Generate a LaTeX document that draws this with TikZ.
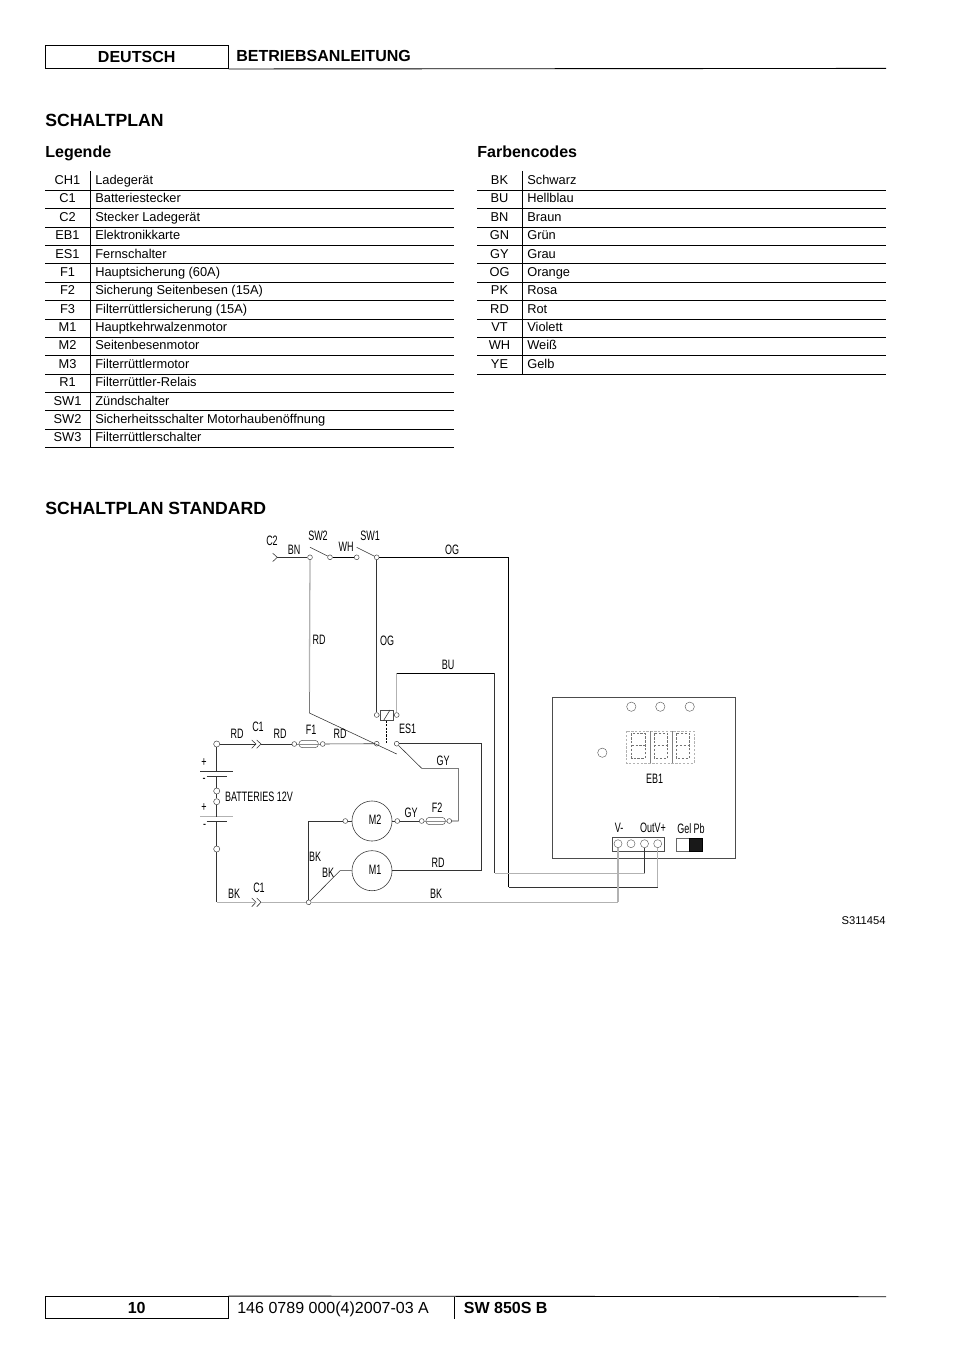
\documentclass[tikz,border=0pt]{standalone}
\usepackage{fontspec}
\setmainfont{Liberation Sans}
\newfontfamily\narrowfont[FakeStretch=0.66]{Liberation Sans}
\tikzset{
  wire/.style={line width=0.35pt,draw=black!80},
  wiredark/.style={line width=0.5pt,draw=black},
  wirepale/.style={line width=0.8pt,draw=black!30},
  terminal/.style={circle,draw=black!75,line width=0.3pt,fill=white,inner sep=0pt,minimum size=3pt},
  bigterminal/.style={terminal,minimum size=3.8pt},
  motor/.style={circle,draw=black!80,line width=0.35pt,inner sep=0pt,minimum size=25pt},
  fuse/.style={draw=black!70,line width=0.3pt,rounded corners=2.2pt,inner sep=0pt,minimum width=12.2pt,minimum height=4.6pt},
  label/.style={inner sep=0pt,font=\narrowfont\fontsize{8.5}{9}\selectfont},
  cell/.style={inner sep=0pt,anchor=base,font=\fontsize{8}{9}\selectfont},
  rowline/.style={line width=0.55pt},
  lamp/.style={circle,draw=black!60,line width=0.3pt,inner sep=0pt,minimum size=5.8pt},
  digit/.style={draw=black!55,line width=0.35pt,dash pattern=on 1.5pt off 0.9pt}
}
\begin{document}
\begin{tikzpicture}[x=0.6237pt,y=-0.6237pt]
\useasboundingbox (0,0) rectangle (954,1350);

% Drawing page header
\node (deutsch) [draw,line width=0.55pt,minimum width=114pt,minimum height=14.4pt,inner sep=0pt,text height=7.2pt,text depth=0pt,font=\bfseries\fontsize{10}{12}\selectfont] at (136.7,57) {DEUTSCH};
\coordinate (headr) at (886,68.4);
\draw [rowline] (deutsch.south east) -- (headr);
\node (betrieb) [anchor=base west,inner sep=0pt,font=\bfseries\fontsize{10}{12}\selectfont] at (236,62) {BETRIEBSANLEITUNG};

% Drawing titles
\node (schaltplan) [anchor=base west,inner sep=0pt,font=\bfseries\fontsize{11}{14}\selectfont] at (45,127) {SCHALTPLAN};
\node (legende) [anchor=base west,inner sep=0pt,font=\bfseries\fontsize{10}{12}\selectfont] at (45,157.5) {Legende};
\node (farben) [anchor=base west,inner sep=0pt,font=\bfseries\fontsize{10}{12}\selectfont] at (477,157.5) {Farbencodes};
\node (standard) [anchor=base west,inner sep=0pt,font=\bfseries\fontsize{11}{14}\selectfont] at (45,514) {SCHALTPLAN STANDARD};

% Drawing table of parts
\draw [rowline] (90,171) -- (90,447.7);
\foreach \code/\name [count=\i from 0] in {CH1/Ladegerät,C1/Batteriestecker,C2/Stecker Ladegerät,EB1/Elektronikkarte,ES1/Fernschalter,F1/Hauptsicherung (60A),F2/Sicherung Seitenbesen (15A),F3/Filterrüttlersicherung (15A),M1/Hauptkehrwalzenmotor,M2/Seitenbesenmotor,M3/Filterrüttlermotor,R1/Filterrüttler-Relais,SW1/Zündschalter,SW2/Sicherheitsschalter Motorhaubenöffnung,SW3/Filterrüttlerschalter}{
  \node (partcode\i) [cell] at (67.5,184.5+18.38*\i) {\code};
  \node (partname\i) [cell,anchor=base west] at (95,184.5+18.38*\i) {\name};
  \draw [rowline] (45,190.3+18.38*\i) -- (454,190.3+18.38*\i);
}

% Drawing table of colours
\draw [rowline] (522,171) -- (522,374.1);
\foreach \code/\name [count=\i from 0] in {BK/Schwarz,BU/Hellblau,BN/Braun,GN/Grün,GY/Grau,OG/Orange,PK/Rosa,RD/Rot,VT/Violett,WH/Weiß,YE/Gelb}{
  \node (colcode\i) [cell] at (499.5,184.5+18.38*\i) {\code};
  \node (colname\i) [cell,anchor=base west] at (527,184.5+18.38*\i) {\name};
  \draw [rowline] (477,190.3+18.38*\i) -- (886,190.3+18.38*\i);
}

% Marking terminals by circles
\node (tbn) [terminal] at (310,557.3) {};
\node (tswb) [terminal] at (330,557.3) {};
\node (twh) [terminal] at (356.7,557.3) {};
\node (tswa) [terminal] at (376.7,557.3) {};
\node (tcoila) [terminal] at (376.7,715) {};
\node (tcoilb) [terminal] at (396.7,715) {};
\node (tesa) [terminal] at (376.7,743.7) {};
\node (tesb) [terminal] at (396.7,743.7) {};
\node (tbatp) [bigterminal] at (216.7,744) {};
\node (tbata) [bigterminal] at (216.7,791) {};
\node (tbatb) [bigterminal] at (216.7,801.7) {};
\node (tbatn) [bigterminal] at (216.7,849) {};
\node (tfaa) [terminal] at (294.3,744) {};
\node (tfab) [terminal] at (322.7,744) {};
\node (tfba) [terminal] at (421.7,821) {};
\node (tfbb) [terminal] at (449.3,821) {};
\node (tmba) [terminal] at (345.3,821) {};
\node (tmbb) [terminal] at (397.3,821) {};
\node (tgnd) [terminal] at (308.7,902.3) {};

% Drawing motors and fuses
\node (motb) [motor] at (372,821) {};
\node (mota) [motor] at (372,870.7) {};
\node (fusea) [fuse] at (308.7,744) {};
\node (fuseb) [fuse] at (435.7,821) {};
\draw [wire,draw=black!45] (tfaa) -- (tfab);
\draw [wire,draw=black!45] (tfba) -- (tfbb);

% Drawing line BN and connector C2
\coordinate (cbt) at (272.7,553.2);
\coordinate (cbm) at (277.3,557.3);
\coordinate (cbb) at (272.7,561.6);
\draw [wire] (cbt) -- (cbm) -- (cbb);
\draw [wire] (cbm) -- (tbn);

% Drawing switches SW2 and SW1
\coordinate (swbtop) at (310,547.3);
\coordinate (swatop) at (356.7,547.3);
\draw [wire] (swbtop) -- (tswb);
\draw [wire] (swatop) -- (tswa);
\draw [wiredark] (tswb) -- (twh);

% Drawing line OG to V+
\coordinate (ogc) at (508.5,557.3);
\coordinate (ogd) at (508.5,887.3);
\coordinate (oge) at (657.7,887.3);
\draw [wiredark] (tswa) -- (ogc) -- (ogd);
\draw [wire] (ogd) -- (oge);

% Drawing line RD and contact
\coordinate (rda) at (309.4,692);
\coordinate (rdb) at (309.4,713);
\coordinate (blade) at (396.7,754);
\draw [wirepale] (tbn) -- (rda);
\draw [wire] (rda) -- (rdb) -- (blade);

% Drawing line OG to coil
\draw [wire] (tswa) -- (tcoila);

% Drawing coil ES1
\node (coil) [draw=black!70,line width=0.3pt,inner sep=0pt,minimum width=8.3pt,minimum height=6.6pt] at (386.7,715.3) {};
\draw [wire] (383.5,720.6) -- (390,710);
\draw [wire] (tcoila) -- (coil);
\draw [wire] (tcoilb) -- (coil);
\coordinate (esd) at (386.7,743);
\draw [line width=0.4pt,dash pattern=on 1.4pt off 0.7pt] (coil.south) -- (esd);

% Drawing line BU
\coordinate (bua) at (396.7,673.3);
\coordinate (bub) at (494.7,673.3);
\coordinate (buc) at (494.7,873.2);
\coordinate (bud) at (644.5,873.2);
\draw [wirepale] (tcoilb) -- (bua);
\draw [wiredark] (bua) -- (bub);
\draw [wire] (bub) -- (buc);
\draw [wirepale] (buc) -- (bud);

% Drawing line RD to M1
\coordinate (rdc) at (481.7,743.7);
\coordinate (rdd) at (481.7,870.7);
\draw [wire] (tesb) -- (rdc) -- (rdd) -- (mota);

% Drawing line GY
\coordinate (gya) at (421.7,768.3);
\coordinate (gyb) at (458.3,768.3);
\coordinate (gyc) at (458.3,821);
\draw [wire] (tesb) -- (gya) -- (gyb) -- (gyc) -- (tfbb);
\draw [wire] (tfba) -- (tmbb);
\draw [wire] (tmbb) -- (motb);

% Drawing line RD through F1
\draw [wire] (tfab) -- (tesa);

% Drawing connector C1 at plus pole
\coordinate (cat) at (251.7,740);
\coordinate (cam) at (256,744);
\coordinate (cab) at (251.7,748.3);
\coordinate (cct) at (256.7,740);
\coordinate (ccm) at (261,744);
\coordinate (ccb) at (256.7,748.3);
\draw [wire] (cat) -- (cam) -- (cab);
\draw [wire] (cct) -- (ccm) -- (ccb);
\draw [wire] (tbatp) -- (cam);
\draw [wire] (ccm) -- (tfaa);

% Drawing batteries
\coordinate (bapa) at (200,771);
\coordinate (bapb) at (233.3,771);
\coordinate (bapm) at (216.7,771);
\coordinate (bana) at (206.7,776);
\coordinate (banb) at (226.7,776);
\coordinate (banm) at (216.7,776);
\coordinate (bbpa) at (200,816.7);
\coordinate (bbpb) at (233.3,816.7);
\coordinate (bbpm) at (216.7,816.7);
\coordinate (bbna) at (206.7,821.7);
\coordinate (bbnb) at (226.7,821.7);
\coordinate (bbnm) at (216.7,821.7);
\draw [wire] (bapa) -- (bapb);
\draw [wire] (bana) -- (banb);
\draw [wirepale] (bbpa) -- (bbpb);
\draw [wire] (bbna) -- (bbnb);
\draw [wire] (tbatp) -- (bapm);
\draw [wire] (banm) -- (tbata);
\draw [wire] (tbata) -- (tbatb);
\draw [wire] (tbatb) -- (bbpm);
\draw [wire] (bbnm) -- (tbatn);

% Drawing line BK
\coordinate (bkc) at (216.7,902.3);
\coordinate (bkm) at (256,902.3);
\coordinate (bkn) at (261,902.3);
\coordinate (bke) at (618,902.3);
\coordinate (cdt) at (251.7,898);
\coordinate (cdb) at (251.7,906.7);
\coordinate (cet) at (256.7,898);
\coordinate (ceb) at (256.7,906.7);
\draw [wire] (cdt) -- (bkm) -- (cdb);
\draw [wire] (cet) -- (bkn) -- (ceb);
\draw [wire] (tbatn) -- (bkc);
\draw [wirepale] (bkc) -- (bkm);
\draw [wirepale] (bkn) -- (tgnd);
\draw [wirepale] (tgnd) -- (bke);

% Drawing line BK to motors
\coordinate (bka) at (308.7,821);
\coordinate (bkb) at (340,870.7);
\draw [wire] (tmba) -- (motb);
\draw [wire] (tmba) -- (bka) -- (tgnd);
\draw [wire] (tgnd) -- (bkb) -- (mota);

% Drawing board EB1
\node (board) [draw=black!70,line width=0.4pt,minimum width=114pt,minimum height=100.4pt,inner sep=0pt] at (644.2,777.8) {};
\node (lampa) [lamp] at (631.3,706.7) {};
\node (lampb) [lamp] at (660.3,706.7) {};
\node (lampc) [lamp] at (689.7,706.7) {};
\node (lampd) [lamp] at (602.3,752.7) {};

% Drawing display
\draw [digit,draw=black!30] (626.7,731) rectangle (694,763.3);
\foreach \xd in {631.7,654,676}{
  \draw [digit] (\xd,733.3) rectangle (\xd+13.3,758.3);
  \draw [digit] (\xd,745.5) -- (\xd+13.3,745.5);
}
\draw [line width=0.3pt,draw=black!50] (650,731) -- (650,763.3);
\draw [line width=0.3pt,draw=black!50] (672,731) -- (672,763.3);

% Drawing terminal strip
\node (strip) [draw=black!70,line width=0.3pt,minimum width=32.2pt,minimum height=8.7pt,inner sep=0pt] at (638.2,844.3) {};
\node (pinv) [lamp,minimum size=5pt] at (618,843.7) {};
\node (pinn) [lamp,minimum size=5pt] at (631,843.7) {};
\node (pinout) [lamp,minimum size=5pt] at (644.5,843.7) {};
\node (pinp) [lamp,minimum size=5pt] at (657.7,843.7) {};
\draw [wirepale] (bke) -- (pinv);
\draw [wire] (bud) -- (pinout);
\draw [wirepale] (oge) -- (pinp);

% Drawing jumper Gel Pb
\node (gel) [draw=black!60,line width=0.3pt,minimum width=7.9pt,minimum height=7.9pt,inner sep=0pt] at (683,844.7) {};
\node (pb) [draw,fill=black!90,minimum width=7.9pt,minimum height=7.9pt,inner sep=0pt] at (695.7,844.7) {};

% Drawing labels
\node (lcb) [label] at (272,541) {C2};
\node (lbn) [label] at (294,549.5) {BN};
\node (lswb) [label] at (318,536) {SW2};
\node (lwh) [label] at (346,547) {WH};
\node (lswa) [label] at (370,536) {SW1};
\node (logc) [label] at (452,549.5) {OG};
\node (lrdv) [label] at (319,640) {RD};
\node (logv) [label] at (387,641) {OG};
\node (lbu) [label] at (448,665) {BU};
\node (les) [label] at (407.5,729) {ES1};
\node (lrdb) [label] at (237,734) {RD};
\node (lcap) [label] at (258,727) {C1};
\node (lrdc) [label] at (280,734) {RD};
\node (lfa) [label] at (311,730) {F1};
\node (lrdd) [label] at (340,734) {RD};
\node (lgya) [label] at (443,761) {GY};
\node (lbat) [label] at (259,796.5) {BATTERIES 12V};
\node (lmb) [label] at (375,819.5) {M2};
\node (lgyb) [label] at (411,813) {GY};
\node (lfb) [label] at (437,808) {F2};
\node (lbka) [label] at (315,856.5) {BK};
\node (lbkb) [label] at (328,873) {BK};
\node (lma) [label] at (375,869.5) {M1};
\node (lrde) [label] at (438,863) {RD};
\node (lbkc) [label] at (234,894) {BK};
\node (lcan) [label] at (259,888) {C1};
\node (lbkd) [label] at (436,894) {BK};
\node (lpa) [label] at (204,762.7) {+};
\node (lmia) [label] at (204,780.7) {-};
\node (lpb) [label] at (204,807.7) {+};
\node (lmib) [label] at (204.7,826.7) {-};
\node (leb) [label] at (654.5,779) {EB1};
\node (lvm) [label] at (619,828) {V-};
\node (lout) [label] at (653,828) {OutV+};
\node (lgel) [label] at (691,829) {Gel Pb};
\node (lref) [anchor=east,inner sep=0pt,font=\fontsize{7}{8}\selectfont] at (886,921) {S311454};

% Drawing page footer
\node (pageno) [draw,line width=0.55pt,minimum width=114pt,minimum height=13.7pt,inner sep=0pt,font=\bfseries\fontsize{10}{12}\selectfont] at (136.7,1307.5) {10};
\coordinate (footr) at (886,1296.7);
\coordinate (footm) at (454,1296.7);
\coordinate (footb) at (454,1319);
\draw [rowline] (pageno.north east) -- (footr);
\draw [rowline] (footm) -- (footb);
\node (docno) [anchor=base west,inner sep=0pt,font=\fontsize{10}{12}\selectfont] at (237,1313) {146 0789 000(4)2007-03 A};
\node (model) [anchor=base west,inner sep=0pt,font=\bfseries\fontsize{10}{12}\selectfont] at (463.5,1313) {SW 850S B};
\end{tikzpicture}
\end{document}
